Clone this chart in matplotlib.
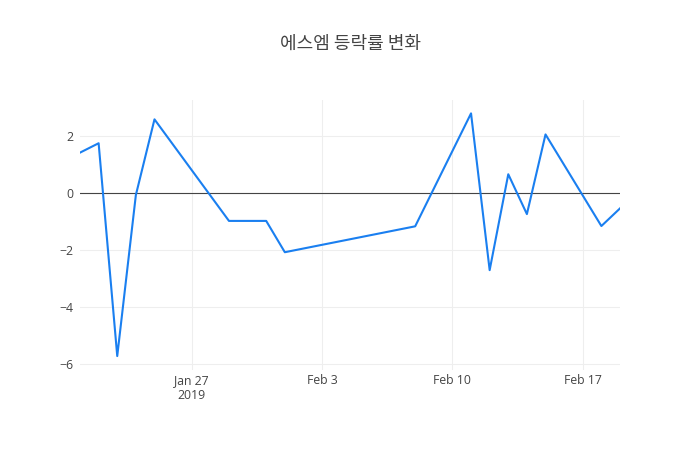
import pandas as pd
import matplotlib.pyplot as plt

# 에스엠 일별 등락률 (%)
dates = ['2019-01-21', '2019-01-22', '2019-01-23', '2019-01-24', '2019-01-25',
         '2019-01-29', '2019-01-31', '2019-02-01', '2019-02-08', '2019-02-11',
         '2019-02-12', '2019-02-13', '2019-02-14', '2019-02-15', '2019-02-18',
         '2019-02-19']
changes = [1.43, 1.76, -5.72, -0.06, 2.60,
           -0.97, -0.97, -2.07, -1.16, 2.81,
           -2.70, 0.67, -0.73, 2.07, -1.15,
           -0.53]
x_ticks = ['2019-01-27', '2019-02-03', '2019-02-10', '2019-02-17']
x_tick_labels = ['Jan 27\n2019', 'Feb 3', 'Feb 10', 'Feb 17']
y_ticks = [-6, -4, -2, 0, 2]

plt.rcParams['font.family'] = ['Open Sans', 'Noto Sans CJK KR', 'DejaVu Sans']

df = pd.DataFrame({'date': pd.to_datetime(dates), 'change': changes})

fig = plt.figure(figsize=(7, 4.5), dpi=100)
ax = fig.add_axes([80 / 700, 80 / 450, 540 / 700, 270 / 450])

ax.plot(df['date'], df['change'], color='#1a7ff0', linewidth=1.5, zorder=3)
ax.axhline(0, color='#444444', linewidth=0.8, zorder=2)

ax.set_xlim(df['date'].min(), df['date'].max())
ax.set_ylim(-6.21, 3.28)

ax.set_xticks(pd.to_datetime(x_ticks))
ax.set_xticklabels(x_tick_labels, linespacing=1.15)
ax.set_yticks(y_ticks)
ax.set_yticklabels([str(v).replace('-', '\u2212') for v in y_ticks])

ax.grid(True, color='#eeeeee', linewidth=0.75, zorder=1)
for s in ax.spines.values():
    s.set_visible(False)
ax.tick_params(length=0, labelsize=8.8, colors='#444444')
ax.tick_params(axis='x', pad=3)
ax.tick_params(axis='y', pad=5)

fig.text(0.5, 1 - 44 / 450, '에스엠 등락률 변화', ha='center', va='center',
         fontsize=13, color='#444444', family=['Noto Sans CJK KR', 'DejaVu Sans'])

fig.savefig('out.png', dpi=100)
